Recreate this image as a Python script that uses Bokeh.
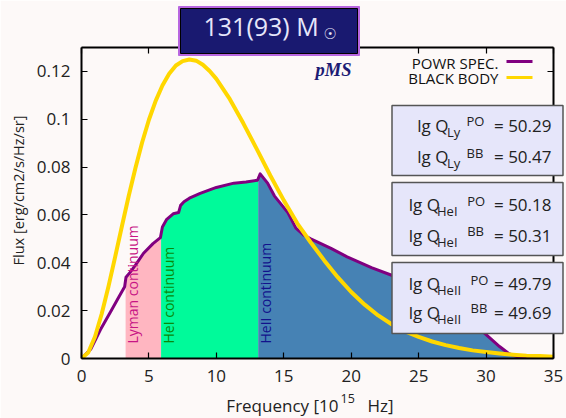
import numpy as np
from math import pi
from bokeh.plotting import figure
from bokeh.models import (Range1d, LinearAxis, FixedTicker, Label, BoxAnnotation,
                          CustomJSTickFormatter)
from bokeh.embed import file_html
from bokeh.resources import INLINE

# PoWR model flux (10^15 Hz, erg/cm2/s/Hz/sr)
powr_freq = [0, 0.7, 1.4, 2.2, 2.8, 3.2, 3.3, 3.6, 4.0, 4.6, 5.3, 5.85, 6.0, 6.3,
             6.8, 7.2, 7.35, 7.6, 8.0, 8.8, 10.0, 11.3, 12.2, 13.05, 13.25, 13.8,
             14.3, 14.9, 15.3, 15.9, 16.5, 17.0, 18.5, 19.7, 21.5, 23.0, 25.0,
             27.0, 28.5, 29.9, 31.0, 31.7, 32.5, 33.5, 35.0]
powr_flux = [0, 0.004, 0.012, 0.020, 0.026, 0.030, 0.034, 0.036, 0.039, 0.044,
             0.048, 0.0505, 0.055, 0.058, 0.0605, 0.061, 0.064, 0.0655, 0.067,
             0.069, 0.0715, 0.0733, 0.0738, 0.0745, 0.0772, 0.0733, 0.0680,
             0.0638, 0.0610, 0.0545, 0.0515, 0.0500, 0.0460, 0.0425, 0.0380,
             0.0348, 0.0300, 0.0250, 0.0190, 0.0105, 0.0050, 0.0020, 0.0004,
             0.0001, 0.0]

# Black body flux
bb_freq = [0, 0.5, 1, 1.5, 2, 2.5, 3, 3.5, 4, 4.5, 5, 5.5, 6, 6.5, 7, 7.5, 8, 8.5,
           9, 9.5, 10, 11, 12, 13, 14, 15, 16, 17, 18, 19, 20, 21, 22, 23, 24, 25,
           26, 27, 28, 29, 30, 31, 32, 33, 34, 35]
bb_flux = [0, 0.0025, 0.0091, 0.0187, 0.0301, 0.0426, 0.0554, 0.0679, 0.0796,
           0.0904, 0.0998, 0.1077, 0.1141, 0.1190, 0.1225, 0.1243, 0.1250, 0.1245,
           0.1228, 0.1202, 0.1169, 0.1084, 0.0983, 0.0875, 0.0765, 0.0661, 0.0565,
           0.0485, 0.0410, 0.0340, 0.0278, 0.0225, 0.0180, 0.0143, 0.0113, 0.0090,
           0.0071, 0.0056, 0.0044, 0.0034, 0.0027, 0.0021, 0.0016, 0.0012, 0.0010,
           0.0007]

# Ionisation edges (10^15 Hz)
edge_names = ["Lyman continuum", "HeI continuum", "HeII continuum"]
edge_freq = [3.27, 5.9, 13.1, 35.0]
edge_fill = ["#ffb6c1", "#00fa9a", "#4682b4"]
edge_text = ["#c71585", "#0a8a0a", "#12128c"]

# Ionising photon rates
q_ions = ["Ly", "HeI", "HeII"]
q_powr = ["50.29", "50.18", "49.79"]
q_bb = ["50.47", "50.31", "49.69"]

x_ticks = [0, 5, 10, 15, 20, 25, 30, 35]
y_ticks = [0, 0.02, 0.04, 0.06, 0.08, 0.10, 0.12]

BG = "#fdf9f8"
FONT = "Open Sans"
W, H = 566, 418
FL, FR, FT, FB = 81, 553, 47, 358   # frame edges in canvas pixels

p = figure(width=W, height=H, x_range=Range1d(0, 35), y_range=Range1d(0, 0.13),
           output_backend="svg", toolbar_location=None,
           min_border_left=FL, min_border_right=W - FR,
           min_border_top=FT, min_border_bottom=H - FB,
           background_fill_color=BG, border_fill_color=BG)
p.grid.visible = False
p.outline_line_color = None

blank = CustomJSTickFormatter(code="return '';")

def style_axis(ax, ticks, labels=True):
    ax.ticker = FixedTicker(ticks=ticks)
    ax.axis_line_width = 2
    ax.axis_line_color = "black"
    ax.major_tick_in = 6
    ax.major_tick_out = 0
    ax.major_tick_line_width = 1.2
    ax.minor_tick_line_color = None
    ax.major_label_text_font = FONT
    ax.major_label_text_color = "#222"
    ax.major_label_text_font_size = "17px"
    if labels:
        ax.major_label_standoff = 11
    else:
        ax.formatter = blank
        ax.major_label_standoff = 0

style_axis(p.xaxis[0], x_ticks)
style_axis(p.yaxis[0], y_ticks)
p.yaxis[0].formatter = CustomJSTickFormatter(
    code="return String(Math.round(tick * 100) / 100);")
top_ax = LinearAxis()
right_ax = LinearAxis()
style_axis(top_ax, x_ticks, labels=False)
style_axis(right_ax, y_ticks, labels=False)
p.add_layout(top_ax, "above")
p.add_layout(right_ax, "right")

# continuum areas under the model spectrum
fx = np.array(powr_freq)
fy = np.array(powr_flux)
for i in range(3):
    lo, hi = edge_freq[i], edge_freq[i + 1]
    m = (fx > lo) & (fx < hi)
    xs = np.concatenate([[lo], fx[m], [hi]])
    ys = np.interp(xs, fx, fy)
    p.varea(x=xs, y1=0, y2=ys, fill_color=edge_fill[i], fill_alpha=1)

p.line(powr_freq, powr_flux, line_color="#800080", line_width=3, line_join="round")
p.line(bb_freq, bb_flux, line_color="#ffd700", line_width=4, line_join="round")

for i in range(3):
    p.add_layout(Label(x=edge_freq[i], y=0, x_offset=7, y_offset=15, angle=pi / 2,
                       text=edge_names[i], text_font=FONT, text_font_size="14px",
                       text_color=edge_text[i], text_align="left",
                       text_baseline="middle"))

# transparent page-sized layer on top for titles, legend and the info boxes;
# its coordinates are canvas pixels measured from the top-left corner
ov = figure(width=W, height=H, x_range=Range1d(0, W), y_range=Range1d(H, 0),
            output_backend="svg", toolbar_location=None, min_border=0,
            x_axis_type=None, y_axis_type=None, outline_line_color=None,
            background_fill_alpha=0, border_fill_alpha=0,
            styles={"position": "absolute", "top": "0px", "left": "0px"})
ov.grid.visible = False

def put(text, px, py, size, color="#222", align="left", font=FONT, style="normal",
        angle=0, middle=False):
    # py is the text baseline; the label box is anchored on its bottom edge
    if middle:
        base, y = "middle", py
    else:
        base, y = "alphabetic", py - 0.3 * size
    ov.add_layout(Label(x=px, y=y, text=text, text_font=font,
                        text_font_size=f"{size}px", text_color=color,
                        text_align=align, text_baseline=base,
                        text_font_style=style, angle=angle))

def box(l, t, r, b, fill, line, lw):
    ov.add_layout(BoxAnnotation(left=l, right=r, top=t, bottom=b,
                                fill_color=fill, fill_alpha=1, line_color=line,
                                line_width=lw, line_alpha=1))

# axis titles
put("Flux [erg/cm2/s/Hz/sr]", 18, 190, 14.5, align="center", angle=pi / 2,
    middle=True)
put("Frequency [10", 338, 410.5, 17, align="right")
put("15", 340, 402, 12.5)
put("Hz]", 367, 410.5, 17)

# title box
box(178, 6, 359, 55, "#b866e0", "#b866e0", 1)
box(180, 8, 357, 53, "#191970", "black", 1)
put("131(93) M", 203, 33, 25, color="#e6e6fa")
put("\u2609", 323, 38, 15, color="#e6e6fa", font="DejaVu Sans")

put("pMS", 315, 75, 18.5, color="#1c1c74", font="Liberation Serif",
    style="bold italic")

# legend
put("POWR SPEC.", 498, 66.5, 15, color="#111", align="right")
put("BLACK BODY", 498, 82, 15, color="#111", align="right")
box(506, 59.5, 532, 62.5, "#800080", None, 0)
box(506, 75.5, 532, 78.5, "#ffd700", None, 0)

# photon-rate boxes
box_tops = [105, 182, 262]
box_bots = [175, 255, 333]
line1 = [130, 209.5, 288.5]
line2 = [161.5, 240, 317]
lg_left = [416.7, 408.3, 408.3]
sub_left = [446.5, 436.5, 436.5]
sup_left = [466, 466.7, 470]
for i in range(3):
    box(391.5, box_tops[i], 562.5, box_bots[i], "#e6e6fa", "#555555", 1.5)
    for yb, tag, val in ((line1[i], "PO", q_powr[i]), (line2[i], "BB", q_bb[i])):
        put("lg Q", lg_left[i], yb, 17)
        put(q_ions[i], sub_left[i], yb + 5, 13)
        put(tag, sup_left[i], yb - 5.5, 13)
        put("= " + val, 551, yb, 17, align="right")

open("out.html", "w").write(file_html([p, ov], INLINE))
